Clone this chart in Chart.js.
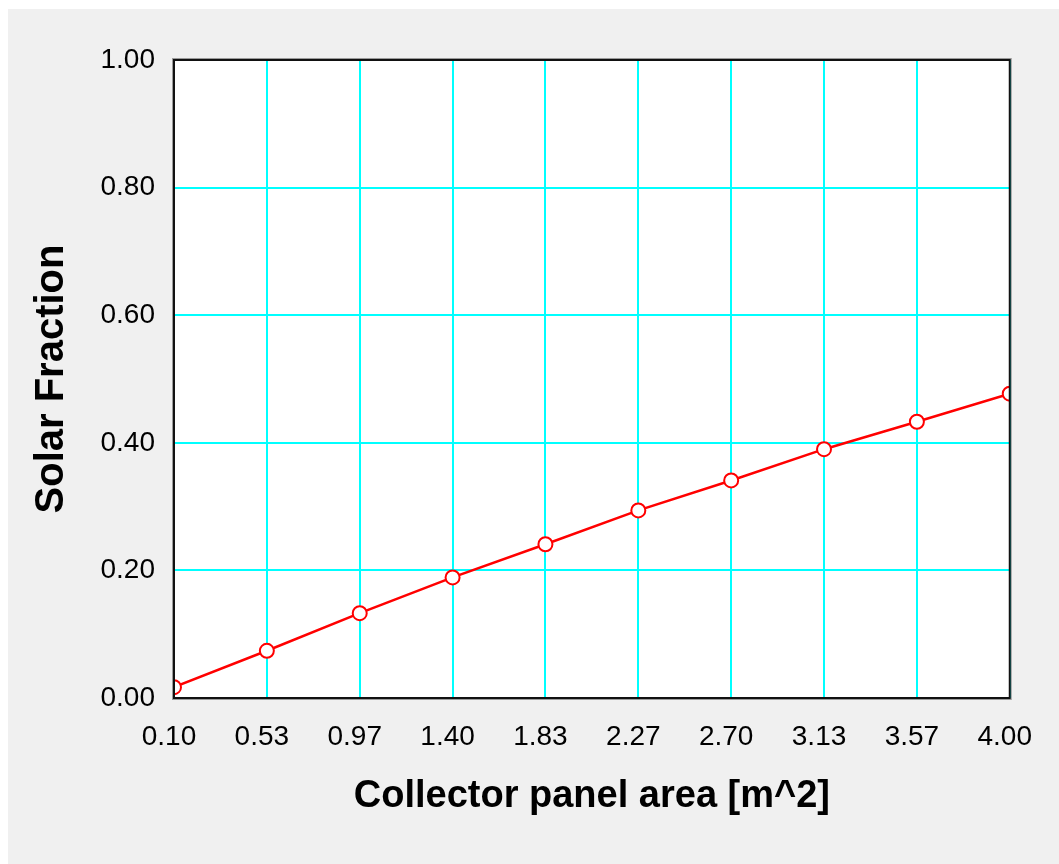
<!DOCTYPE html>
<html>
<head>
<meta charset="utf-8">
<title>Solar Fraction vs Collector panel area</title>
<script src="https://cdn.jsdelivr.net/npm/chart.js@4.4.1/dist/chart.umd.min.js"></script>
<style>
  html, body { margin: 0; padding: 0; background: #ffffff; }
  #wrap { position: relative; width: 1059px; height: 864px; }
  canvas { display: block; }
</style>
</head>
<body>
<div id="wrap"><canvas id="chart" width="1059" height="864"></canvas></div>
<script>
// Collector panel area [m^2] at each sample, and the matching solar fraction
const panelArea = [0.1, 0.5333, 0.9667, 1.4, 1.8333, 2.2667, 2.7, 3.1333, 3.5667, 4.0];
const solarFraction = [0.017, 0.074, 0.133, 0.189, 0.241, 0.294, 0.341, 0.390, 0.433, 0.477];

// Axis tick positions and their printed labels
const xTickValues = [0.1, 0.5333, 0.9667, 1.4, 1.8333, 2.2667, 2.7, 3.1333, 3.5667, 4.0];
const xTickLabels = ['0.10', '0.53', '0.97', '1.40', '1.83', '2.27', '2.70', '3.13', '3.57', '4.00'];
const yTickValues = [0, 0.2, 0.4, 0.6, 0.8, 1.0];
const yTickLabels = ['0.00', '0.20', '0.40', '0.60', '0.80', '1.00'];

const FONT = '"Liberation Sans", Arial, sans-serif';

// Window-style backdrop: grey panel with a white plotting area
const backdrop = {
  id: 'backdrop',
  beforeDraw(chart) {
    const { ctx, width, height, chartArea: a } = chart;
    ctx.save();
    ctx.fillStyle = '#ffffff';
    ctx.fillRect(0, 0, width, height);
    ctx.fillStyle = '#f0f0f0';
    ctx.fillRect(8, 9, width - 8, height - 9);
    ctx.fillStyle = '#ffffff';
    ctx.fillRect(a.left, a.top, a.right - a.left, a.bottom - a.top);
    ctx.restore();
  },
  afterDraw(chart) {
    const { ctx, chartArea: a } = chart;
    ctx.save();
    ctx.strokeStyle = '#9a9a9a';
    ctx.lineWidth = 1;
    ctx.strokeRect(a.left - 1.5, a.top - 1.5, a.right - a.left + 3, a.bottom - a.top + 3);
    ctx.strokeStyle = '#111111';
    ctx.lineWidth = 2;
    ctx.strokeRect(a.left, a.top, a.right - a.left, a.bottom - a.top);
    ctx.restore();
  }
};

new Chart(document.getElementById('chart'), {
  type: 'line',
  data: {
    datasets: [{
      data: panelArea.map((x, i) => ({ x, y: solarFraction[i] })),
      borderColor: '#ff0000',
      borderWidth: 2.5,
      pointRadius: 7,
      pointHoverRadius: 7,
      pointBackgroundColor: '#ffffff',
      pointBorderColor: '#ff0000',
      pointBorderWidth: 2,
      tension: 0,
      clip: 0
    }]
  },
  options: {
    responsive: false,
    animation: false,
    events: [],
    layout: { padding: { left: 0, top: 60, right: 48, bottom: 0 } },
    plugins: { legend: { display: false }, tooltip: { enabled: false } },
    scales: {
      x: {
        type: 'linear',
        min: 0.1,
        max: 4.0,
        afterBuildTicks(scale) { scale.ticks = xTickValues.map(v => ({ value: v })); },
        afterFit(scale) { scale.height = 166; },
        grid: { color: '#00ffff', lineWidth: 2, drawTicks: false },
        border: { display: false },
        ticks: {
          autoSkip: false,
          maxRotation: 0,
          padding: 22,
          labelOffset: -5,
          color: '#000000',
          font: { family: FONT, size: 28 },
          callback: (v, i) => xTickLabels[i]
        },
        title: {
          display: true,
          text: 'Collector panel area [m^2]',
          color: '#000000',
          font: { family: FONT, size: 38, weight: 'bold' },
          padding: { top: 0, bottom: 45 }
        }
      },
      y: {
        type: 'linear',
        min: 0,
        max: 1,
        afterBuildTicks(scale) { scale.ticks = yTickValues.map(v => ({ value: v })); },
        afterFit(scale) { scale.width = 174; },
        grid: { color: '#00ffff', lineWidth: 2, drawTicks: false },
        border: { display: false },
        ticks: {
          padding: 19,
          color: '#000000',
          font: { family: FONT, size: 28 },
          callback: (v, i) => yTickLabels[i]
        },
        title: {
          display: true,
          text: 'Solar Fraction',
          color: '#000000',
          font: { family: FONT, size: 40, weight: 'bold' },
          padding: { top: 28, bottom: 0 }
        }
      }
    }
  },
  plugins: [backdrop]
});
</script>
</body>
</html>
